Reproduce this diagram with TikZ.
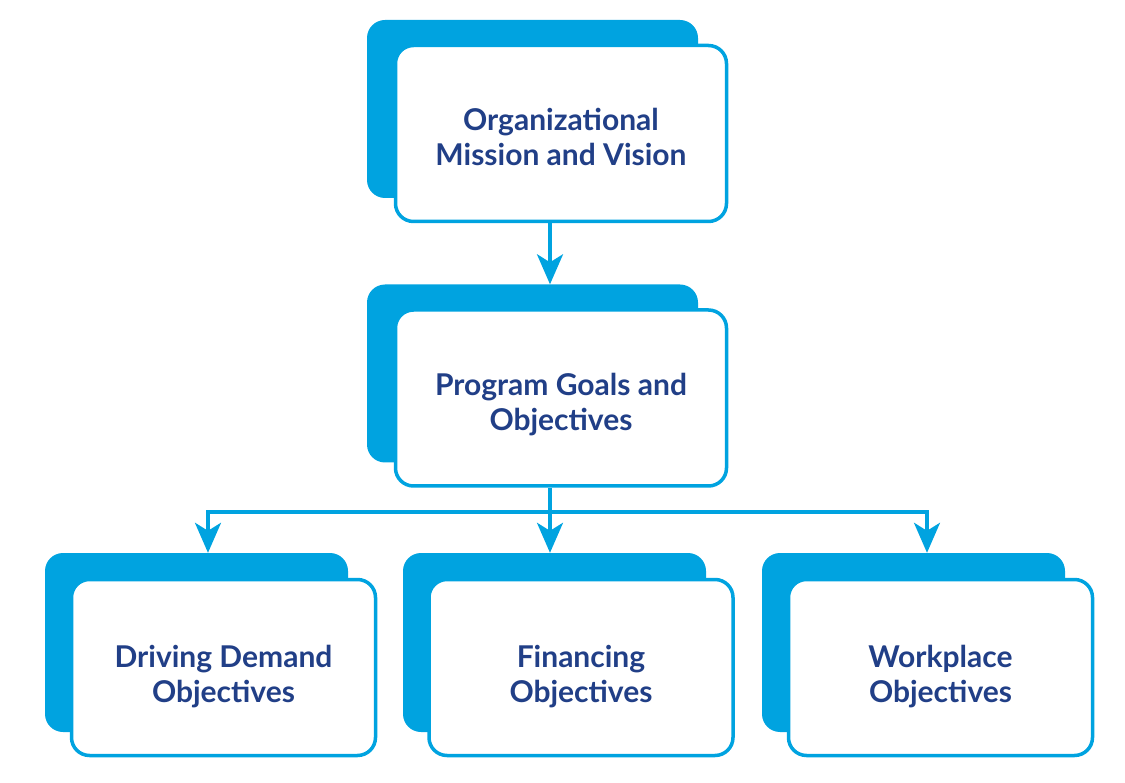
\documentclass[tikz,border=0pt]{standalone}
\usepackage{fontspec}
\setmainfont{Lato}
\usetikzlibrary{arrows.meta,calc}
\definecolor{cy}{HTML}{00A3E0}
\definecolor{tx}{HTML}{213F87}
\newcommand\boxlbl[3]{\raisebox{-#1}[0pt][0pt]{\begin{tabular}{@{}c@{}}#2\\#3\end{tabular}}}
\begin{document}
\begin{tikzpicture}[x=1pt,y=-1pt,
  front/.style={draw=cy, line width=3.5pt, fill=white, rounded corners=18pt,
    align=center, text=tx, font=\fontsize{30}{35}\selectfont\bfseries, inner sep=0pt},
  back/.style={fill=cy, rounded corners=18pt, inner sep=0pt},
  bigf/.style={front, minimum width=331pt, minimum height=176pt},
  bigb/.style={back, minimum width=331pt, minimum height=178pt},
  smallf/.style={front, minimum width=304pt, minimum height=176pt},
  smallb/.style={back, minimum width=303pt, minimum height=179pt},
  conn/.style={draw=cy, line width=3.5pt, -{Stealth[length=30pt,width=26pt,inset=8pt]}}]
\useasboundingbox (0,0) rectangle (1125,783);
% back plates
\node[bigb] (orgB) at (532.5,109) {};
\node[bigb] (pgB) at (532.5,373.5) {};
\node[smallb] (ddB) at (196.5,642.5) {};
\node[smallb] (fiB) at (554.5,642.5) {};
\node[smallb] (wpB) at (913.5,642.5) {};
% front boxes
\node[bigf] (org) at (561,133.5) {\boxlbl{14pt}{Organizational}{Mission and Vision}};
\node[bigf] (pg) at (561,398) {\boxlbl{14.5pt}{Program Goals and}{Objectives}};
\node[smallf] (dd) at (223.5,667.5) {\boxlbl{16.5pt}{Driving Demand}{Objectives}};
\node[smallf] (fi) at (581,667.5) {\boxlbl{16.5pt}{Financing}{Objectives}};
\node[smallf] (wp) at (940.5,667.5) {\boxlbl{16.5pt}{Workplace}{Objectives}};
% connector guides
\coordinate (a0) at (550,0);
\coordinate (a1) at (208,0);
\coordinate (a3) at (927,0);
\coordinate (bus) at (0,512);
% connectors
\draw[conn] (org.south -| a0) -- (pgB.north -| a0);
\draw[conn] (pg.south -| a0) -- (fiB.north -| a0);
\draw[conn] (bus -| a0) -| (ddB.north -| a1);
\draw[conn] (bus -| a0) -| (wpB.north -| a3);
\end{tikzpicture}
\end{document}
